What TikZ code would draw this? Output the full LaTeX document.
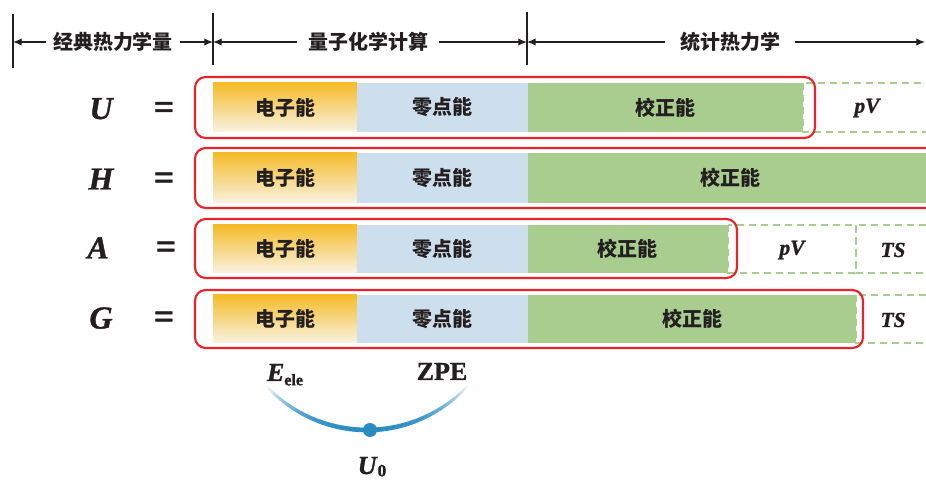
\documentclass[tikz,border=0pt]{standalone}
\usepackage{fontspec}
\setmainfont{Liberation Serif}
\newfontfamily\heavy[BoldFeatures={FakeBold=1.2}, BoldItalicFeatures={FakeBold=1.2}]{Liberation Serif}
\newfontfamily\cjk{Noto Sans CJK SC}
\usetikzlibrary{arrows.meta}
\definecolor{redC}{HTML}{E8232B}
\definecolor{greenC}{HTML}{A9CC8F}
\definecolor{blueC}{HTML}{CDDEED}
\definecolor{eleTop}{HTML}{F5BB28}
\definecolor{eleBot}{HTML}{F9F3E3}
\definecolor{txtC}{HTML}{231F20}
\definecolor{arcC}{HTML}{2A8DC2}
\tikzset{
  tick/.style={line width=1.1pt, txtC},
  harrow/.style={line width=0.9pt, txtC, -{Latex[length=6.5pt,width=5.5pt]}},
  htext/.style={font=\cjk\bfseries\fontsize{15}{15}\selectfont, text=txtC, inner ysep=0pt, inner xsep=6pt},
  segtext/.style={font=\cjk\bfseries\fontsize{15}{15}\selectfont, text=txtC, inner sep=0pt},
  eletile/.style={top color=eleTop, bottom color=eleBot, draw=none},
  zpetile/.style={fill=blueC},
  cortile/.style={fill=greenC},
  dbox/.style={draw=greenC, line width=1.5pt, dash pattern=on 5.5pt off 3.5pt},
  redbox/.style={draw=redC, line width=1.6pt, rounded corners=8pt},
  qlabel/.style={font=\heavy\bfseries\itshape\fontsize{24}{24}\selectfont, text=txtC, inner sep=0pt, anchor=base},
  eqlabel/.style={font=\heavy\bfseries\fontsize{27}{27}\selectfont, text=txtC, inner sep=0pt, anchor=base},
  termtext/.style={font=\heavy\bfseries\itshape\fontsize{16}{16}\selectfont, text=txtC, inner sep=0pt},
  bottext/.style={font=\heavy\bfseries\fontsize{19.5}{19.5}\selectfont, text=txtC, inner sep=0pt},
}
\begin{document}
\begin{tikzpicture}[x=0.75pt,y=-0.75pt]
\useasboundingbox (0,0) rectangle (926,481);
\clip (0,0) rectangle (926,481);

% ---------- header ----------
\draw[tick] (13,14) -- (13,68);
\draw[tick] (213,13) -- (213,65);
\draw[tick] (527,12) -- (527,65);
\coordinate (t1) at (13,42);
\coordinate (t2) at (213,42);
\coordinate (t3) at (527,42);
\coordinate (t4) at (925,42);
\node[htext, inner xsep=5pt] (h1) at (113,42) {经典热力学量};
\node[htext, inner xsep=8pt] (h2) at (368,42) {量子化学计算};
\node[htext, inner xsep=11pt] (h3) at (730,42) {统计热力学};
\draw[harrow] (h1.west) -- (t1);
\draw[harrow] (h1.east) -- (t2);
\draw[harrow] (h2.west) -- (t2);
\draw[harrow] (h2.east) -- (t3);
\draw[harrow] (h3.west) -- (t3);
\draw[harrow] (h3.east) -- (t4);

% ---------- row U ----------
\shade[eletile] (213,83) rectangle (357,132);
\fill[zpetile] (357,83) rectangle (528,132);
\fill[cortile] (528,83) rectangle (803,132);
\draw[dbox] (803,83) rectangle (945,132);
\node[segtext] (u1) at (285,107.5) {电子能};
\node[segtext] (u2) at (442,107.5) {零点能};
\node[segtext] (u3) at (665,107.5) {校正能};
\node[termtext] (u4) at (867,108) {pV};
\draw[redbox] (195,77) rectangle (815,138);
\node[qlabel] (U) at (101,119) {U};
\node[eqlabel] (eqU) at (164,119) {=};

% ---------- row H ----------
\shade[eletile] (213,153) rectangle (357,203);
\fill[zpetile] (357,153) rectangle (528,203);
\fill[cortile] (528,153) rectangle (926,203);
\node[segtext] (hh1) at (285,178) {电子能};
\node[segtext] (hh2) at (442,178) {零点能};
\node[segtext] (hh3) at (730,178) {校正能};
\draw[redbox] (195,148) rectangle (945,208);
\node[qlabel] (H) at (101,189.5) {H};
\node[eqlabel] (eqH) at (164,189.5) {=};

% ---------- row A ----------
\shade[eletile] (213,225) rectangle (357,273);
\fill[zpetile] (357,225) rectangle (528,273);
\fill[cortile] (528,225) rectangle (728,273);
\draw[dbox] (728,225) rectangle (856,273);
\draw[dbox] (856,225) rectangle (945,273);
\node[segtext] (a1) at (285,249) {电子能};
\node[segtext] (a2) at (442,249) {零点能};
\node[segtext] (a3) at (627,249) {校正能};
\node[termtext] (a4) at (792,250) {pV};
\node[termtext] (a5) at (893,250) {TS};
\draw[redbox] (195,219) rectangle (737,278);
\node[qlabel] (A) at (98,258.5) {A};
\node[eqlabel] (eqA) at (166,258.5) {=};

% ---------- row G ----------
\shade[eletile] (213,295) rectangle (357,343);
\fill[zpetile] (357,295) rectangle (528,343);
\fill[cortile] (528,295) rectangle (856,343);
\draw[dbox] (856,295) rectangle (945,343);
\node[segtext] (g1) at (285,319) {电子能};
\node[segtext] (g2) at (442,319) {零点能};
\node[segtext] (g3) at (692,319) {校正能};
\node[termtext] (g4) at (893,320) {TS};
\draw[redbox] (195,290) rectangle (863,348);
\node[qlabel] (G) at (101,328.5) {G};
\node[eqlabel] (eqG) at (164,328.5) {=};

% ---------- bottom ----------
\node[bottext, anchor=base] (Eele) at (285,381) {\textit{E}\raisebox{-0.35ex}{\fontsize{12}{12}\selectfont\bfseries ele}};
\node[bottext, anchor=base] (ZPE) at (442,380) {ZPE};
\foreach \a in {42,43,...,137}{
  \pgfmathsetmacro\tt{abs(\a+0.5-90)/48}
  \pgfmathsetmacro\pp{100*(1-\tt*\tt*\tt)}
  \pgfmathsetmacro\ww{1.5+2.0*(1-\tt*\tt)}
  \draw[line width=\ww pt, arcC!\pp!white]
    ({367+137*cos(\a)},{293+137*sin(\a)}) -- ({367+137*cos(\a+1.15)},{293+137*sin(\a+1.15)});
}
\node[circle, fill=arcC, inner sep=0pt, minimum size=10.5pt] (dot) at (370,430) {};
\node[bottext, anchor=base] (U0) at (372,474) {\textit{U}\raisebox{-0.2ex}{\fontsize{13}{13}\selectfont\bfseries 0}};
\end{tikzpicture}
\end{document}
